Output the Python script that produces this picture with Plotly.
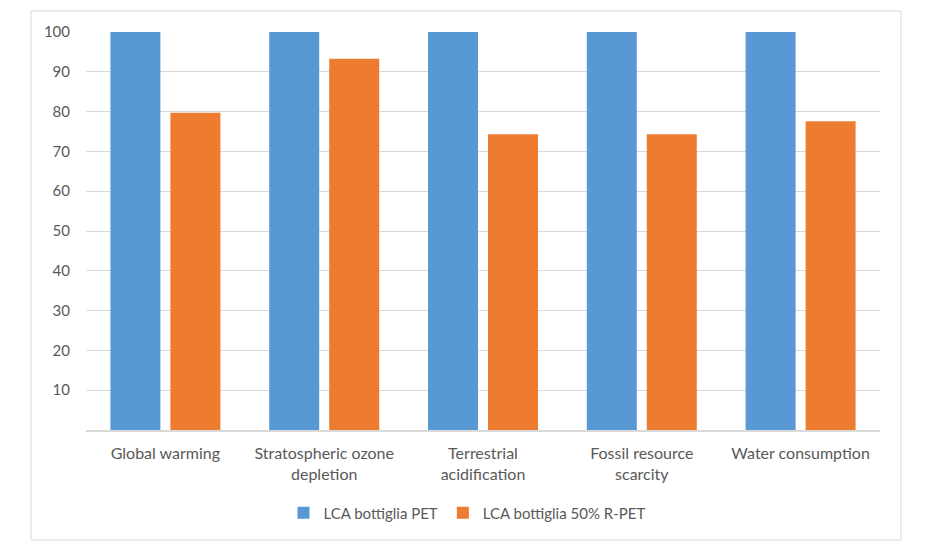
import plotly.graph_objects as go

categories = ["Global warming", "Stratospheric ozone<br>depletion", "Terrestrial<br>acidification",
              "Fossil resource<br>scarcity", "Water consumption"]
pet_values = [100, 100, 100, 100, 100]
rpet_values = [79.7, 93.3, 74.3, 74.3, 77.6]
series_names = ["LCA bottiglia PET", "LCA bottiglia 50% R-PET"]
tick_values = [10, 20, 30, 40, 50, 60, 70, 80, 90, 100]

font_family = "Lato, 'Open Sans', sans-serif"
text_color = "#595959"

fig = go.Figure()
fig.add_trace(go.Bar(x=categories, y=pet_values, name=series_names[0],
                     marker=dict(color="#5898d5", line=dict(width=0))))
fig.add_trace(go.Bar(x=categories, y=rpet_values, name=series_names[1],
                     marker=dict(color="#ed7b30", line=dict(width=0))))

fig.update_layout(
    width=930, height=557,
    paper_bgcolor="white", plot_bgcolor="white",
    margin=dict(l=78, r=58, t=24, b=135),
    barmode="group", bargap=0.2443, bargroupgap=0.1667,
    font=dict(family=font_family, size=15, color=text_color),
    showlegend=True,
    legend=dict(orientation="h", x=0.5 - 16 / 794, xanchor="center", y=-0.2085, yanchor="middle",
                font=dict(size=15, color=text_color), itemwidth=30, traceorder="normal"),
    xaxis=dict(showline=True, linecolor="#d9d9d9", linewidth=2, ticks="", tickfont=dict(size=16),
               showgrid=False, ticklabelstandoff=8),
    yaxis=dict(range=[0, 100], tickvals=tick_values, showgrid=True, gridcolor="#d9d9d9",
               gridwidth=1, zeroline=False, showline=False, ticks="", ticklabelstandoff=15,
               tickfont=dict(size=15)),
    shapes=[dict(type="rect", xref="paper", yref="paper", x0=-0.0693, x1=1.0264,
                 y0=-0.2764, y1=1.0528, line=dict(color="#d9d9d9", width=1), layer="below")],
)

fig.write_html("out.html")
